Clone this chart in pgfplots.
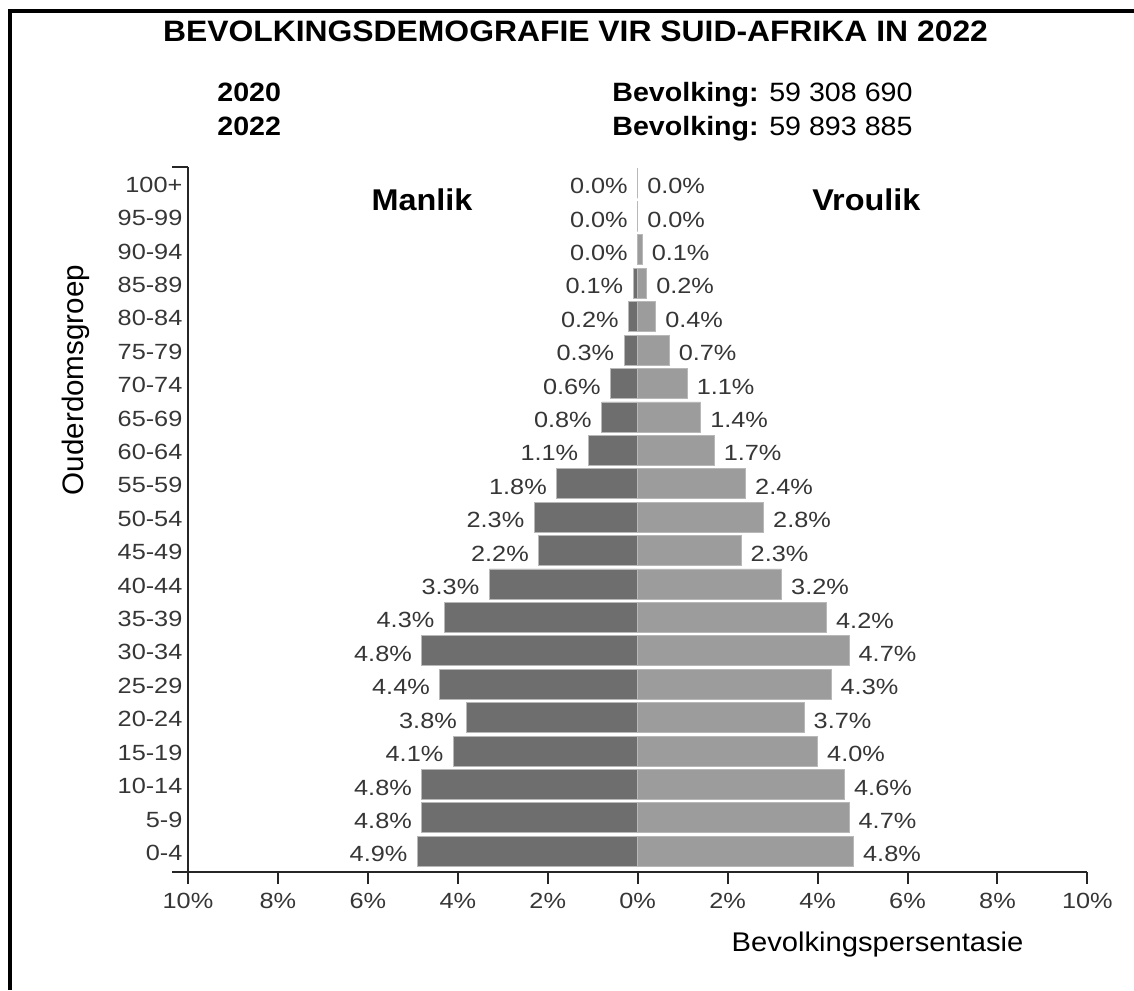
\documentclass[border=0pt]{standalone}
\usepackage{fontspec}
\setmainfont{Liberation Sans}
\newfontfamily\hdr[FakeStretch=1.08]{Liberation Sans}
\newfontfamily\chartfont[FakeStretch=1.15]{Liberation Sans}
\usepackage{pgfplots}
\pgfplotsset{compat=1.18}
\usepackage{pgfplotstable}
\definecolor{male}{HTML}{6E6E6E}
\definecolor{female}{HTML}{9C9C9C}
\definecolor{lbl}{HTML}{363636}

\pgfplotstableread{
idx m f
0 4.9 4.8
1 4.8 4.7
2 4.8 4.6
3 4.1 4.0
4 3.8 3.7
5 4.4 4.3
6 4.8 4.7
7 4.3 4.2
8 3.3 3.2
9 2.2 2.3
10 2.3 2.8
11 1.8 2.4
12 1.1 1.7
13 0.8 1.4
14 0.6 1.1
15 0.3 0.7
16 0.2 0.4
17 0.1 0.2
18 0.0 0.1
19 0.0 0.0
20 0.0 0.0
}\pyramid

\newcommand{\cf}{\chartfont\fontsize{11}{13}\selectfont}

\begin{document}
\begin{tikzpicture}
\useasboundingbox (0,0) rectangle (567pt,-495pt);
\begin{scope}[x=0.5pt,y=-0.5pt]
  \draw[line width=2pt, line join=miter] (9.5,990) -- (9.5,11) -- (1134,11);
  \node[anchor=base, inner sep=0pt, font=\hdr\bfseries\fontsize{14.75}{16}\selectfont] at (575.5,42) {BEVOLKINGSDEMOGRAFIE VIR SUID-AFRIKA IN 2022};
  \node[anchor=base west, inner sep=0pt, font=\hdr\bfseries\fontsize{13.25}{15}\selectfont] at (217,102) {2020};
  \node[anchor=base west, inner sep=0pt, font=\hdr\bfseries\fontsize{13.25}{15}\selectfont] at (217,135) {2022};
  \node[anchor=base west, inner sep=0pt, font=\hdr\fontsize{13.25}{15}\selectfont] at (612,102) {\textbf{Bevolking:} 59 308 690};
  \node[anchor=base west, inner sep=0pt, font=\hdr\fontsize{13.25}{15}\selectfont] at (612,135) {\textbf{Bevolking:} 59 893 885};
  \node[anchor=base, inner sep=0pt, font=\hdr\bfseries\fontsize{15}{17}\selectfont] at (422,210) {Manlik};
  \node[anchor=base west, inner sep=0pt, font=\hdr\bfseries\fontsize{15}{17}\selectfont] at (812,210) {Vroulik};
  \node[rotate=90, anchor=base, inner sep=0pt, font=\fontsize{14.8}{16}\selectfont] at (83,380) {Ouderdomsgroep};
  \node[anchor=base, inner sep=0pt, font=\hdr\fontsize{13.5}{15}\selectfont] at (877.5,951.6) {Bevolkingspersentasie};
  \draw[line width=1pt, black!85] (172,167) -- (188,167);
  \draw[line width=1.4pt, black!85] (172,872) -- (188,872);
\end{scope}
\begin{axis}[
  at={(94pt,-436pt)}, anchor=south west,
  scale only axis, width=449.7pt, height=352.5pt,
  xmin=-10, xmax=10, ymin=-0.62, ymax=20.48,
  clip=false,
  axis x line*=bottom, axis y line*=left,
  x axis line style={-, line width=1.4pt, black!85},
  y axis line style={-, line width=1pt, black!85},
  xtick={-10,-8,...,10},
  xticklabels={10\%,8\%,6\%,4\%,2\%,0\%,2\%,4\%,6\%,8\%,10\%},
  ytick={0,...,20},
  yticklabels={0-4,5-9,10-14,15-19,20-24,25-29,30-34,35-39,40-44,45-49,50-54,55-59,60-64,65-69,70-74,75-79,80-84,85-89,90-94,95-99,100+},
  tick align=outside,
  major tick length=6pt,
  xtick style={line width=1pt, black!85},
  ytick style={draw=none},
  ticklabel style={font=\cf, text=lbl},
  xticklabel style={yshift=-1pt},
  yticklabel style={inner sep=0pt, xshift=3.4pt, yshift=-0.8pt},
  /pgf/number format/assume math mode=true,
]
\addplot[xbar, bar width=15pt, bar shift=0pt, fill=male, draw=black!28, line width=0.4pt,
  point meta=explicit,
  nodes near coords={\pgfmathprintnumber[fixed,fixed zerofill,precision=1,assume math mode=true]{\pgfplotspointmeta}\%},
  every node near coord/.append style={anchor=east, inner sep=0pt, xshift=-4.8pt, yshift=-1.5pt, font=\cf, text=lbl}]
  table[x expr=-\thisrow{m}, y=idx, meta=m]{\pyramid};
\addplot[xbar, bar width=15pt, bar shift=0pt, fill=female, draw=black!28, line width=0.4pt,
  point meta=explicit,
  nodes near coords={\pgfmathprintnumber[fixed,fixed zerofill,precision=1,assume math mode=true]{\pgfplotspointmeta}\%},
  every node near coord/.append style={anchor=west, inner sep=0pt, xshift=4.6pt, yshift=-1.5pt, font=\cf, text=lbl}]
  table[x=f, y=idx, meta=f]{\pyramid};
\end{axis}
\end{tikzpicture}
\end{document}
